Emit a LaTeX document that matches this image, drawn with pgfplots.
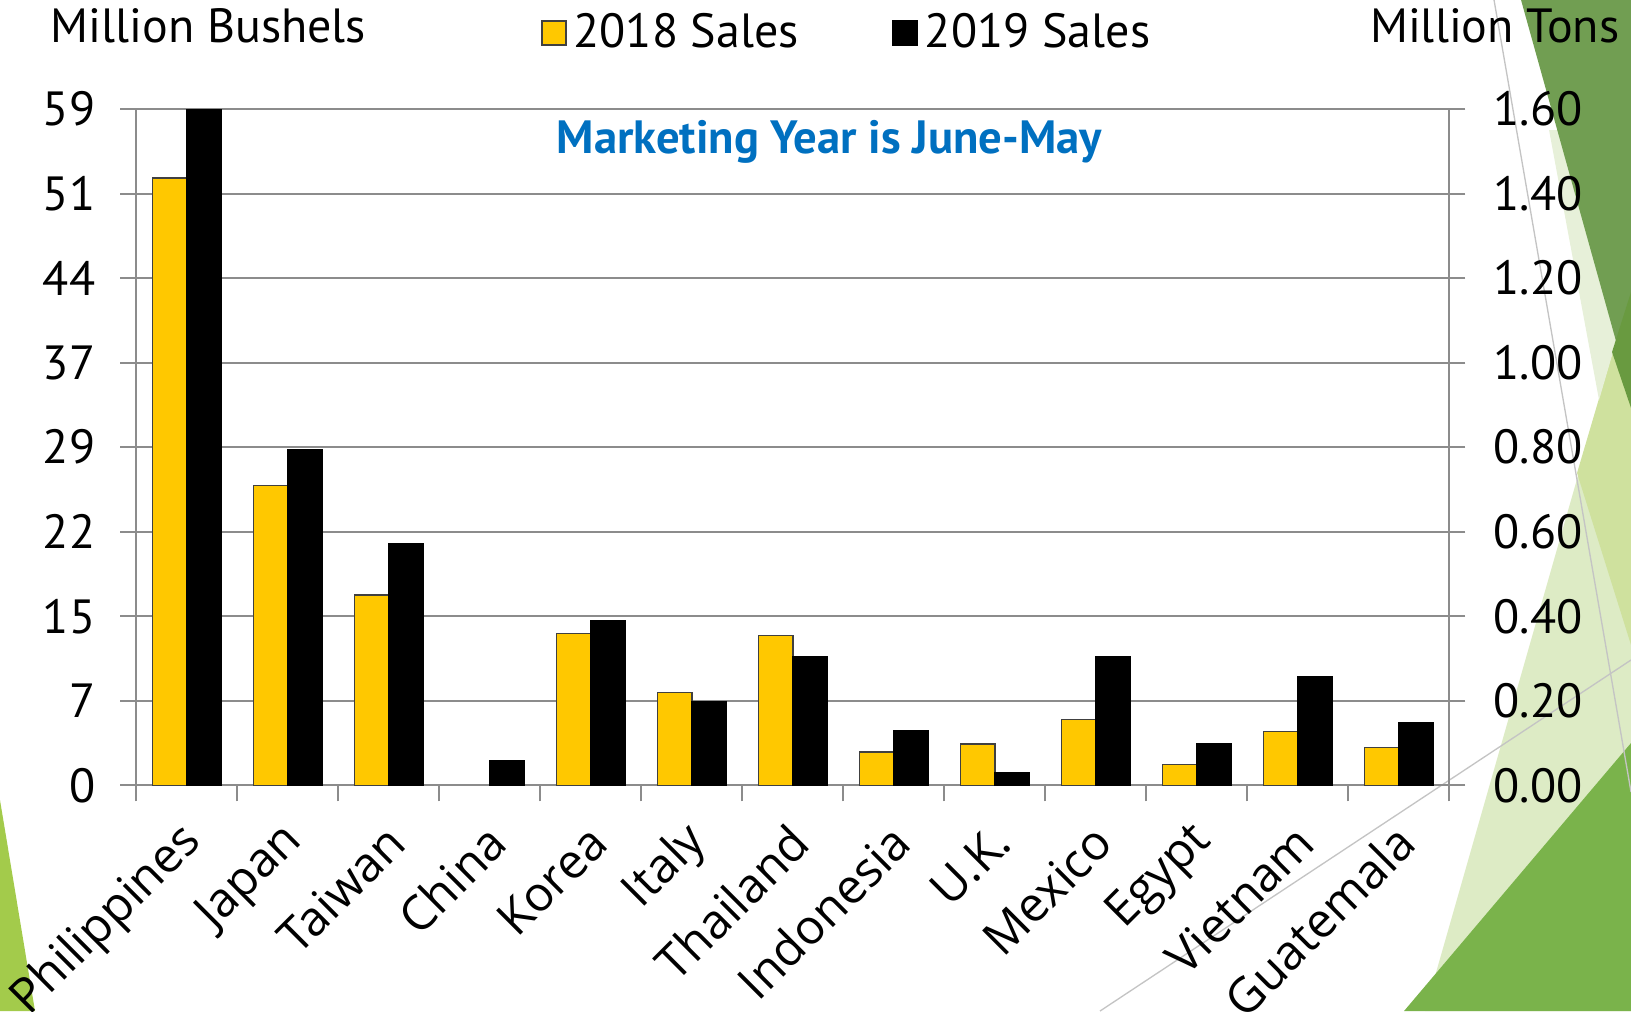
\documentclass[border=0pt]{standalone}
\usepackage{fontspec}
\setmainfont{PT Sans}
\newfontfamily\catfont{Open Sans}
\usepackage{pgfplots}
\pgfplotsset{compat=1.18}
\definecolor{barYellow}{HTML}{FFC800}
\definecolor{gridGray}{HTML}{8C8C8C}
\definecolor{titleBlue}{HTML}{0070C0}
\definecolor{oliveGreen}{HTML}{719E52}
\definecolor{deepGreen}{HTML}{699A40}
\definecolor{paleGreen}{HTML}{DDEBC5}
\definecolor{palerGreen}{HTML}{E7F0D9}
\definecolor{limeGreen}{HTML}{CFE19E}
\definecolor{midGreen}{HTML}{7AB34B}
\definecolor{leafGreen}{HTML}{A3CB4B}
\definecolor{lineGray}{HTML}{C4C4C4}

\newcommand{\chartsize}{\fontsize{14.4}{16}\selectfont}

\begin{document}
\begin{tikzpicture}
\useasboundingbox (0,0) rectangle (489.3pt,303.3pt);
% slide decoration, in pixel units of the 1631x1011 frame
\begin{scope}[shift={(0pt,303.3pt)}, x=0.3pt, y=-0.3pt]
  \fill[paleGreen] (1631,290) -- (1631,1011) -- (1425,1011) -- cycle;
  \fill[limeGreen] (1631,290) -- (1577,473) -- (1631,645) -- cycle;
  \fill[palerGreen] (1549,130) -- (1599,400) -- (1631,290) -- (1631,130) -- cycle;
  \fill[oliveGreen] (1521,0) -- (1631,0) -- (1631,395) -- cycle;
  \fill[deepGreen] (1631,292) -- (1612,352) -- (1631,408) -- cycle;
  \fill[midGreen] (1404,1011) -- (1631,743) -- (1631,1011) -- cycle;
  \fill[leafGreen] (0,800) -- (35,1011) -- (0,1011) -- cycle;
  \draw[lineGray, line width=0.4pt] (1494,0) -- (1631,792);
  \draw[lineGray, line width=0.4pt] (1100,1011) -- (1631,660);
  \node[anchor=west, font=\chartsize, inner sep=0pt] at (50,26) {Million Bushels};
  \node[anchor=east, font=\chartsize, inner sep=0pt] at (1620,26) {Million Tons};
\end{scope}

\begin{axis}[
  at={(40.9pt,67.7pt)}, anchor=south west,
  scale only axis, width=393.9pt, height=202.9pt,
  xmin=-0.5, xmax=12.5, ymin=0, ymax=1.6,
  ybar=0pt, bar width=10.35pt,
  axis x line*=bottom, axis y line*=left,
  axis line style={gridGray, line width=0.6pt, -},
  ytick={0,0.2,0.4,0.6,0.8,1.0,1.2,1.4,1.6},
  yticklabels={0,7,15,22,29,37,44,51,59},
  ymajorgrids, grid style={gridGray, line width=0.6pt},
  tick align=outside, major tick length=4.8pt,
  tick style={gridGray, line width=0.6pt},
  xtick={-0.5,0.5,...,12.5},
  x tick label as interval,
  xticklabels={Philippines,Japan,Taiwan,China,Korea,Italy,Thailand,Indonesia,U.K.,Mexico,Egypt,Vietnam,Guatemala},
  xticklabel style={font=\catfont\chartsize, xshift=3pt, yshift=-9pt, rotate=45, anchor=east, inner sep=1pt},
  yticklabel style={font=\chartsize, xshift=-4pt},
  legend style={at={(0.300,1.112)}, anchor=west, draw=none, fill=none,
    font=\chartsize, legend columns=2,
    /tikz/every even column/.append style={column sep=26pt}},
  legend image code/.code={\draw[#1, line width=0.6pt] (0pt,-3.6pt) rectangle (7.2pt,3.6pt);},
]
\addplot[fill=barYellow, draw=black!75, line width=0.4pt]
  coordinates {(0,1.437) (1,0.709) (2,0.450) (4,0.359) (5,0.219) (6,0.354)
    (7,0.079) (8,0.098) (9,0.155) (10,0.050) (11,0.128) (12,0.090)};
\addplot[fill=black, draw=black, line width=0.4pt]
  coordinates {(0,1.600) (1,0.795) (2,0.571) (3,0.059) (4,0.389) (5,0.199) (6,0.305)
    (7,0.130) (8,0.030) (9,0.305) (10,0.099) (11,0.258) (12,0.149)};
\legend{2018 Sales, 2019 Sales}
\node[font=\bfseries\fontsize{14}{16}\selectfont, text=titleBlue] at (rel axis cs:0.528,0.952) {Marketing Year is June-May};
\end{axis}

\begin{axis}[
  at={(40.9pt,67.7pt)}, anchor=south west,
  scale only axis, width=393.9pt, height=202.9pt,
  xmin=-0.5, xmax=12.5, ymin=0, ymax=1.6,
  axis x line=none, axis y line*=right,
  axis line style={gridGray, line width=0.6pt, -},
  ytick={0,0.2,0.4,0.6,0.8,1.0,1.2,1.4,1.6},
  yticklabels={0.00,0.20,0.40,0.60,0.80,1.00,1.20,1.40,1.60},
  tick align=outside, major tick length=4.8pt,
  tick style={gridGray, line width=0.6pt},
  yticklabel style={font=\chartsize, xshift=5pt},
]
\end{axis}
\end{tikzpicture}
\end{document}
